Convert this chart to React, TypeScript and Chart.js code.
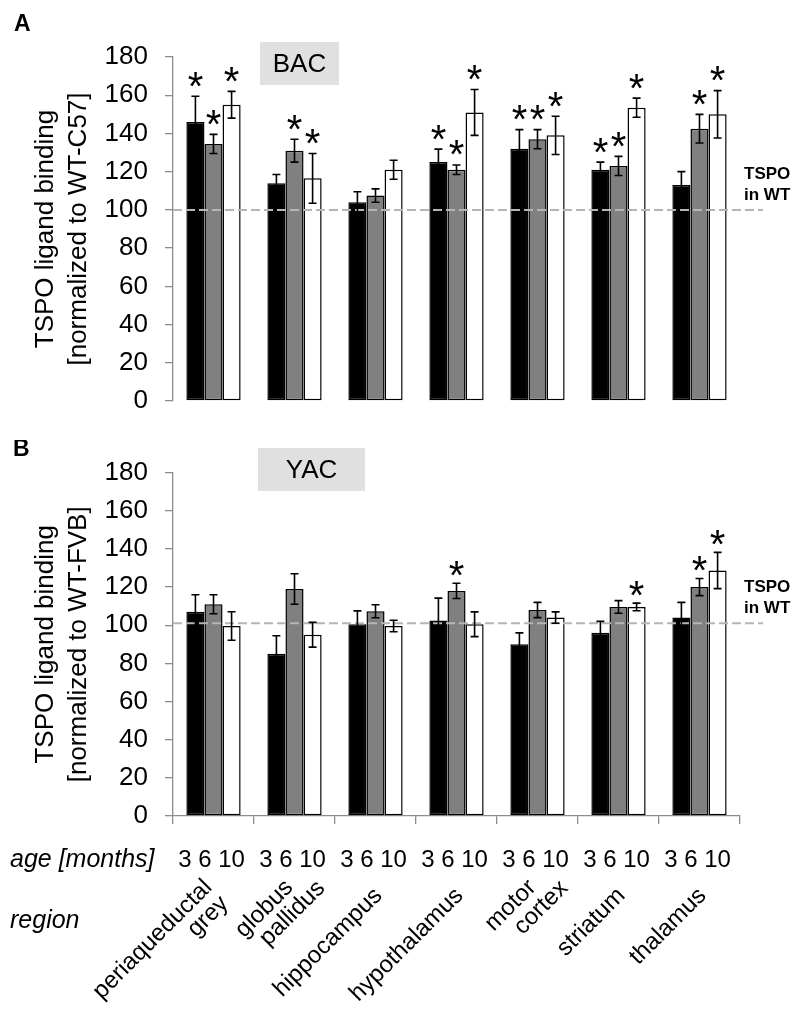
import React, { useEffect, useRef } from "react";
import { Chart, registerables } from "chart.js";

Chart.register(...registerables);

// ---------- data ----------
const regions: string[][] = [
  ["periaqueductal", "grey"],
  ["globus", "pallidus"],
  ["hippocampus"],
  ["hypothalamus"],
  ["motor", "cortex"],
  ["striatum"],
  ["thalamus"],
];
const ageLabels = ["3", "6", "10"];

// Panel A: BAC
const bac3m = [146, 114, 104, 125, 132, 121, 113];
const bac3mErr = [13.5, 4.5, 5.5, 6.8, 10, 4, 7];
const bac6m = [134.5, 131, 107.5, 121, 137, 123, 142.5];
const bac6mErr = [5, 6, 3.5, 2.5, 5, 5, 7.5];
const bac10m = [155, 116.5, 121, 151, 139, 153.5, 150];
const bac10mErr = [7, 13, 5, 12, 10, 5, 12.4];
const bac3mSig = ["*", "", "", "*", "*", "*", ""];
const bac6mSig = ["*", "*", "", "*", "*", "*", "*"];
const bac10mSig = ["*", "*", "", "*", "*", "*", "*"];

// Panel B: YAC
const yac3m = [107, 85, 100.5, 102.5, 90, 96, 104];
const yac3mErr = [9, 9.5, 7, 11.7, 6, 6, 8];
const yac6m = [111, 119, 107.3, 118, 108, 109.6, 120];
const yac6mErr = [5, 8, 3.4, 4, 4, 3.3, 4.5];
const yac10m = [99.6, 95, 99.6, 100.5, 104, 109.6, 128.7];
const yac10mErr = [7.5, 6.5, 3, 6.5, 3, 2, 9.5];
const yac3mSig = ["", "", "", "", "", "", ""];
const yac6mSig = ["", "", "", "*", "", "", "*"];
const yac10mSig = ["", "", "", "", "", "*", "*"];

const FONT = "'Liberation Sans', Arial, Helvetica, sans-serif";
const AXIS_GRAY = "#8c8c8c";

const decorPlugin = {
  id: "decor",
  afterDatasetsDraw(chart: any, _args: any, opts: any) {
    const ctx = chart.ctx as CanvasRenderingContext2D;
    const ys = chart.scales.y;
    const xs = chart.scales.x;
    const area = chart.chartArea;

    // reference dashed line
    const dy = ys.getPixelForValue(opts.ref);
    ctx.save();
    ctx.strokeStyle = "#b5b5b5";
    ctx.lineWidth = 2;
    ctx.setLineDash([9, 4]);
    ctx.beginPath();
    ctx.moveTo(area.left, dy);
    ctx.lineTo(763, dy);
    ctx.stroke();
    ctx.restore();

    // error bars + significance
    chart.data.datasets.forEach((ds: any, i: number) => {
      const meta = chart.getDatasetMeta(i);
      meta.data.forEach((el: any, j: number) => {
        const v = ds.data[j];
        const e = ds.errors[j];
        const yt = ys.getPixelForValue(v + e);
        const yb = ys.getPixelForValue(v - e);
        const x = el.x;
        ctx.save();
        ctx.strokeStyle = "#000";
        ctx.lineWidth = 1.6;
        ctx.beginPath();
        ctx.moveTo(x, yt);
        ctx.lineTo(x, yb);
        ctx.moveTo(x - 4, yt);
        ctx.lineTo(x + 4, yt);
        ctx.moveTo(x - 4, yb);
        ctx.lineTo(x + 4, yb);
        ctx.stroke();
        const s = ds.sig[j];
        if (s) {
          ctx.fillStyle = "#000";
          ctx.font = `40px ${FONT}`;
          ctx.textAlign = "center";
          ctx.textBaseline = "alphabetic";
          const m = ctx.measureText(s);
          const asc = m.actualBoundingBoxAscent;
          const desc = m.actualBoundingBoxDescent;
          const cy = yt - opts.sigGap;
          ctx.fillText(s, x, cy + (asc - desc) / 2);
        }
        ctx.restore();
      });
    });

    // texts
    ctx.save();
    ctx.fillStyle = "#000";
    // panel letter
    ctx.font = `bold 23px ${FONT}`;
    ctx.textAlign = "left";
    ctx.textBaseline = "alphabetic";
    ctx.fillText(opts.panel, opts.panelX, opts.panelY);

    // label box
    const b = opts.box;
    ctx.fillStyle = "#e0e0e0";
    ctx.fillRect(b.x, b.y, b.w, b.h);
    ctx.fillStyle = "#000";
    ctx.font = `26px ${FONT}`;
    ctx.textAlign = "center";
    ctx.textBaseline = "middle";
    ctx.fillText(b.text, b.x + b.w / 2, b.y + b.h / 2 + 1);

    // TSPO in WT
    ctx.font = `bold 17px ${FONT}`;
    ctx.textAlign = "left";
    ctx.textBaseline = "alphabetic";
    ctx.fillText("TSPO", 744, dy - 31);
    ctx.fillText("in WT", 744, dy - 10);

    // y title
    const cy = (area.top + area.bottom) / 2;
    ctx.translate(53, cy);
    ctx.rotate(-Math.PI / 2);
    ctx.font = `26px ${FONT}`;
    ctx.textAlign = "center";
    ctx.textBaseline = "alphabetic";
    ctx.fillText(opts.title[0], 0, 0);
    ctx.fillText(opts.title[1], 0, 33);
    ctx.restore();

    // bottom annotations
    if (opts.showBottom) {
      const off = opts.offsetY; // canvas y offset relative to page
      ctx.save();
      ctx.fillStyle = "#000";
      ctx.textBaseline = "alphabetic";
      ctx.textAlign = "left";
      ctx.font = `italic 25px ${FONT}`;
      ctx.fillText("age [months]", 10, 867 - off);
      ctx.fillText("region", 10, 928 - off);
      const line2Shift = [0, 22, 0, 0, 22, 0, 0];
      regions.forEach((lines, j) => {
        const gc = xs.getPixelForValue(j);
        ctx.font = `24px ${FONT}`;
        ctx.textAlign = "center";
        ctx.textBaseline = "alphabetic";
        ctx.fillText(ageLabels.join(" "), gc - 2, 867 - off);
        ctx.save();
        ctx.translate(gc + 3, 892 - off);
        ctx.rotate(-Math.PI / 4);
        ctx.font = `24px ${FONT}`;
        ctx.textAlign = "right";
        ctx.textBaseline = "middle";
        const n = lines.length;
        const lh = 23;
        lines.forEach((ln, k) => {
          const ly = (k - (n - 1) / 2) * lh;
          const lx = k > 0 ? line2Shift[j] : 0;
          ctx.fillText(ln, lx, ly);
        });
        ctx.restore();
      });
      ctx.restore();
    }
  },
};

function makeDatasets(
  vals: number[][],
  errs: number[][],
  sigs: string[][]
) {
  const fills = ["#000000", "#808080", "#ffffff"];
  return vals.map((v, i) => ({
    label: ageLabels[i] + " months",
    data: v,
    errors: errs[i],
    sig: sigs[i],
    backgroundColor: fills[i],
    borderColor: "#000",
    borderWidth: 1.5,
    borderSkipped: false,
    categoryPercentage: 0.67,
    barPercentage: 1.0,
  }));
}

function buildConfig(
  datasets: any[],
  opts: any,
  padTop: number,
  padBottom: number,
  showX: boolean
): any {
  return {
    type: "bar",
    data: { labels: regions.map((r) => r.join(" ")), datasets },
    options: {
      animation: false,
      responsive: false,
      devicePixelRatio: 1,
      layout: { padding: { left: 0, right: 60, top: padTop, bottom: padBottom } },
      plugins: {
        legend: { display: false },
        tooltip: { enabled: false },
        decor: opts,
      },
      scales: {
        x: {
          display: showX,
          grid: {
            drawOnChartArea: false,
            tickLength: 8,
            color: AXIS_GRAY,
            lineWidth: 1.3,
            offset: true,
          },
          border: { color: AXIS_GRAY, width: 1.3 },
          ticks: { display: false },
          afterFit: (s: any) => {
            s.height = 8;
          },
        },
        y: {
          min: 0,
          max: 180,
          ticks: {
            stepSize: 20,
            color: "#000",
            padding: 17,
            font: { size: 26, family: FONT },
          },
          grid: {
            drawOnChartArea: false,
            tickLength: 8,
            color: AXIS_GRAY,
            lineWidth: 1.3,
          },
          border: { color: AXIS_GRAY, width: 1.3 },
          afterFit: (s: any) => {
            s.width = 173;
          },
        },
      },
    },
    plugins: [decorPlugin],
  };
}

export default function App() {
  const refA = useRef<HTMLCanvasElement>(null);
  const refB = useRef<HTMLCanvasElement>(null);

  useEffect(() => {
    Chart.defaults.font.family = FONT;
    const chartA = new Chart(
      refA.current as HTMLCanvasElement,
      buildConfig(
        makeDatasets(
          [bac3m, bac6m, bac10m],
          [bac3mErr, bac6mErr, bac10mErr],
          [bac3mSig, bac6mSig, bac10mSig]
        ),
        {
          ref: 100,
          sigGap: 17,
          panel: "A",
          panelX: 14,
          panelY: 31,
          box: { x: 260, y: 42, w: 79, h: 43, text: "BAC" },
          title: ["TSPO ligand binding", "[normalized to WT-C57]"],
          showBottom: false,
          offsetY: 0,
        },
        57,
        31,
        false
      )
    );
    const chartB = new Chart(
      refB.current as HTMLCanvasElement,
      buildConfig(
        makeDatasets(
          [yac3m, yac6m, yac10m],
          [yac3mErr, yac6mErr, yac10mErr],
          [yac3mSig, yac6mSig, yac10mSig]
        ),
        {
          ref: 101,
          sigGap: 15,
          panel: "B",
          panelX: 13,
          panelY: 16,
          box: { x: 258, y: 8, w: 107, h: 43, text: "YAC" },
          title: ["TSPO ligand binding", "[normalized to WT-FVB]"],
          showBottom: true,
          offsetY: 440,
        },
        25,
        574 - 376 - 8,
        true
      )
    );
    return () => {
      chartA.destroy();
      chartB.destroy();
    };
  }, []);

  return (
    <div
      style={{
        position: "absolute",
        left: 0,
        top: 0,
        width: 800,
        height: 1014,
        background: "#fff",
      }}
    >
      <canvas
        ref={refA}
        width={800}
        height={440}
        style={{ position: "absolute", left: 0, top: 0, width: 800, height: 440 }}
      />
      <canvas
        ref={refB}
        width={800}
        height={574}
        style={{ position: "absolute", left: 0, top: 440, width: 800, height: 574 }}
      />
    </div>
  );
}
